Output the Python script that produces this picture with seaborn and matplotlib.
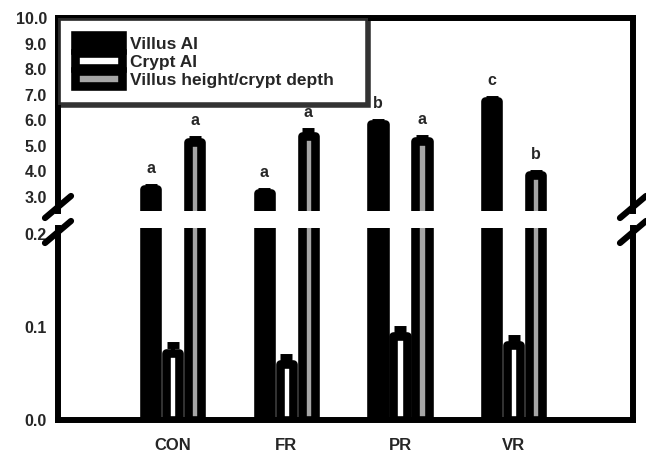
import numpy as np
import pandas as pd
import matplotlib
matplotlib.use("Agg")
import matplotlib.pyplot as plt
import seaborn as sns
from matplotlib.patches import Patch
from matplotlib.lines import Line2D

# Values
groups = ["CON", "FR", "PR", "VR"]
measures = ["Villus AI", "Crypt AI", "Villus height/crypt depth"]
villus_ai = [3.3, 3.15, 5.85, 6.75]
villus_err = [0.08, 0.08, 0.08, 0.08]
crypt_ai = [0.072, 0.06, 0.09, 0.08]
crypt_err = [0.008, 0.008, 0.008, 0.008]
vh_cd = [5.15, 5.4, 5.2, 3.85]
vh_err = [0.1, 0.18, 0.1, 0.08]
villus_letters = ["a", "a", "b", "c"]
vh_letters = ["a", "a", "a", "b"]

top_ticks = [3.0, 4.0, 5.0, 6.0, 7.0, 8.0, 9.0, 10.0]
bottom_ticks = [0.0, 0.1, 0.2]

colors = {"Villus AI": "black", "Crypt AI": "white",
          "Villus height/crypt depth": "#a6a6a6"}

df = pd.DataFrame({
    "group": groups * 3,
    "measure": np.repeat(measures, len(groups)),
    "value": villus_ai + crypt_ai + vh_cd,
})
errs = [villus_err, crypt_err, vh_err]

sns.set_style("white")
plt.rcParams["font.family"] = ["Liberation Sans", "DejaVu Sans"]
plt.rcParams["font.weight"] = "bold"

W, H = 646, 455
fig = plt.figure(figsize=(W / 100, H / 100), dpi=100)
left, right = 58, 633
ax_top = fig.add_axes([left / W, 1 - 211 / H, (right - left) / W, (211 - 18) / H])
ax_bot = fig.add_axes([left / W, 1 - 420 / H, (right - left) / W, (420 - 228) / H])

edge_lw = 6.2
for ax in (ax_top, ax_bot):
    sns.barplot(data=df, x="group", y="value", hue="measure", order=groups,
                hue_order=measures, palette=colors, width=0.58, gap=0.4,
                edgecolor="black", linewidth=edge_lw, legend=False, ax=ax)
    for p in ax.patches:
        p.set_joinstyle("round")
    # error bars from the bar centres
    for cont, err in zip(ax.containers, errs):
        xs = [b.get_x() + b.get_width() / 2 for b in cont]
        hs = [b.get_height() for b in cont]
        ax.errorbar(xs, hs, yerr=[np.zeros(len(err)), err], fmt="none",
                    ecolor="black", elinewidth=3, capsize=4.5, capthick=5)
    ax.set_xlim(-1.01, 4.05)
    ax.set_xlabel("")
    ax.set_ylabel("")
    for s in ax.spines.values():
        s.set_linewidth(4.3)
        s.set_color("black")
    ax.tick_params(axis="y", direction="out", length=3, width=5, pad=5,
                   labelsize=11.5)

# top panel
ax_top.set_ylim(2.45, 10.0)
ax_top.set_yticks(top_ticks)
ax_top.set_yticklabels([f"{t:.1f}" for t in top_ticks])
ax_top.spines["bottom"].set_visible(False)
ax_top.set_xticks([])

# letters above bars
for cont, err, letters in [(ax_top.containers[0], villus_err, villus_letters),
                           (ax_top.containers[2], vh_err, vh_letters)]:
    for b, e, lab in zip(cont, err, letters):
        ax_top.annotate(lab, (b.get_x() + b.get_width() / 2, b.get_height() + e),
                        xytext=(0, 8), textcoords="offset points",
                        ha="center", va="bottom", fontsize=11.5, fontweight="bold")

# bottom panel
ax_bot.set_ylim(0, 0.206)
ax_bot.set_yticks(bottom_ticks)
ax_bot.set_yticklabels([f"{t:.1f}" for t in bottom_ticks])
ax_bot.spines["top"].set_visible(False)
ax_bot.tick_params(axis="x", direction="out", length=3, width=5, pad=10,
                   labelsize=12)

# legend
handles = [Patch(facecolor=colors[m], edgecolor="black", linewidth=edge_lw,
                 joinstyle="round") for m in measures]
leg = ax_top.legend(handles, measures, loc="upper left",
                    bbox_to_anchor=(0, 0, (368 - left) / (right - left), 1),
                    mode="expand", borderaxespad=0, frameon=True, fancybox=False,
                    handlelength=2.7, handleheight=0.95, labelspacing=0.08,
                    handletextpad=0.45, borderpad=1.0,
                    prop={"weight": "bold", "size": 12.5})
leg.get_frame().set_edgecolor("black")
leg.get_frame().set_linewidth(4)

# axis break marks
for xb in (left, right):
    for yb in (207, 232):
        fig.add_artist(Line2D([(xb - 13) / W, (xb + 13) / W],
                              [1 - (yb + 11) / H, 1 - (yb - 11) / H],
                              color="black", lw=4.5, solid_capstyle="round"))

fig.savefig("out.png", dpi=100)
